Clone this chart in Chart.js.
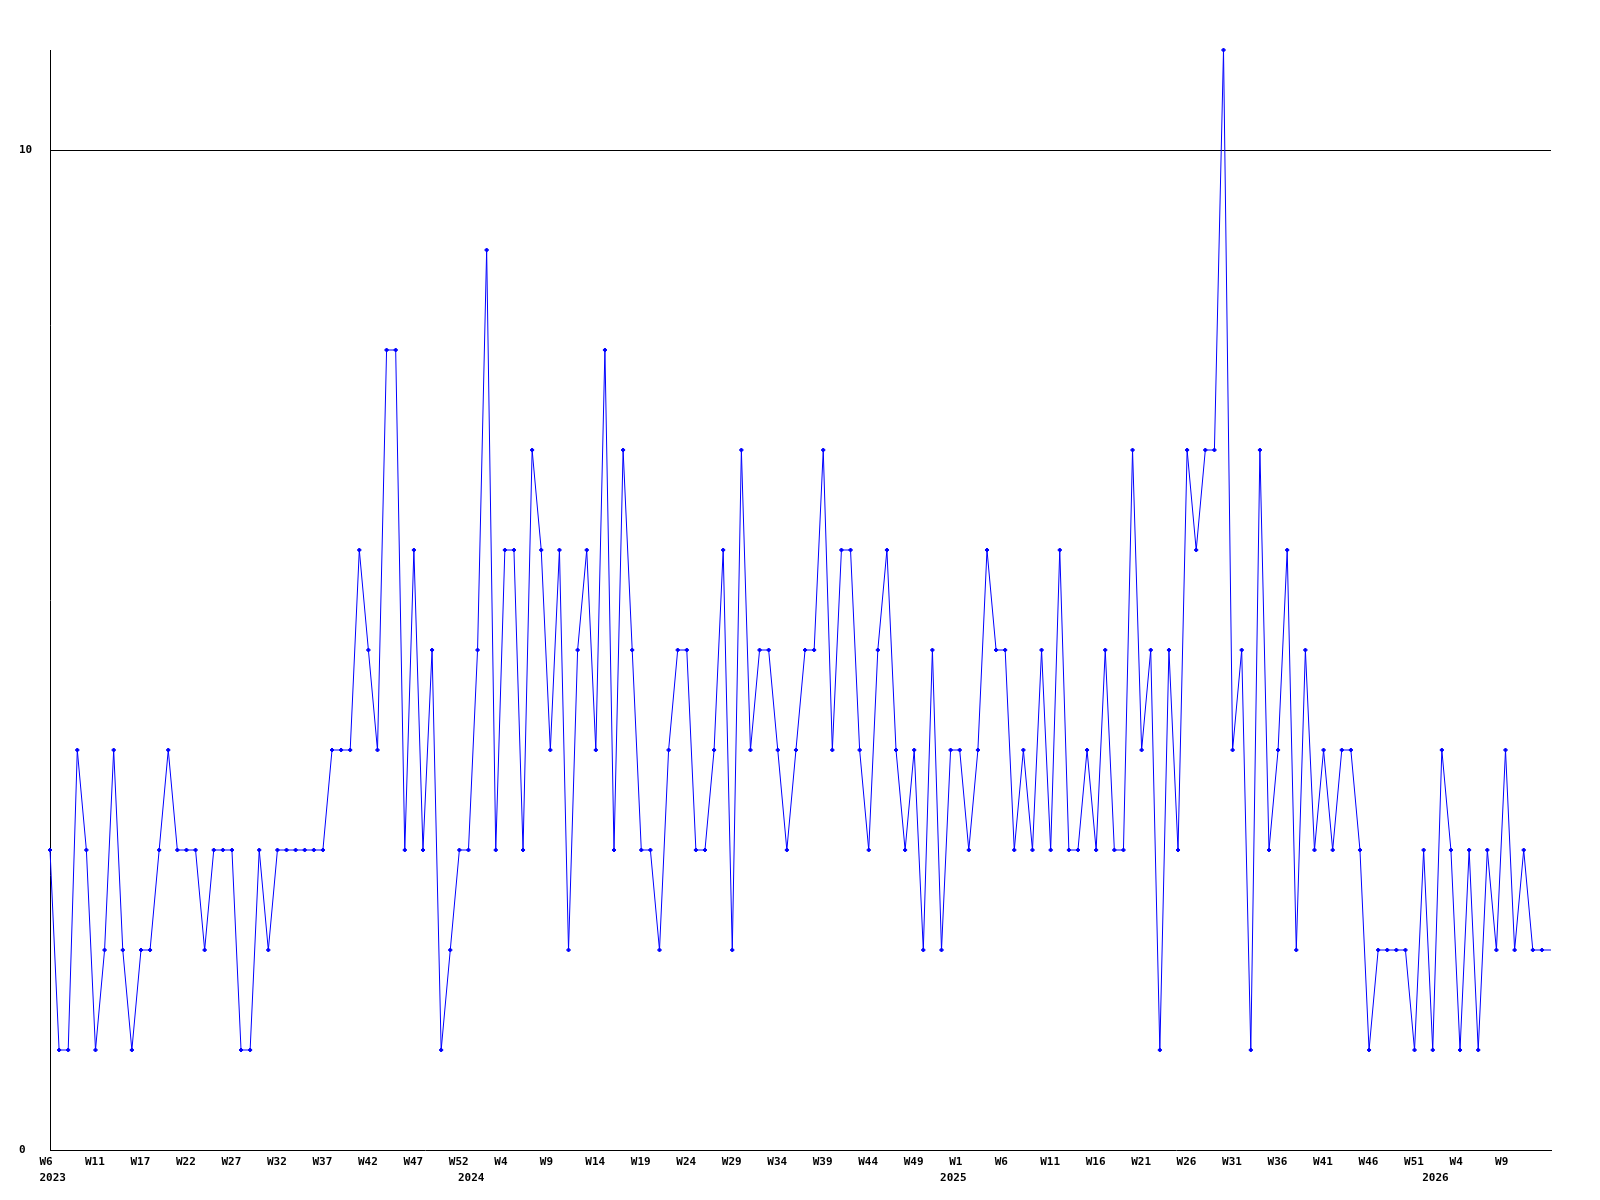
<!DOCTYPE html>
<html>
<head>
<meta charset="utf-8">
<script src="https://cdn.jsdelivr.net/npm/chart.js@4/dist/chart.umd.min.js"></script>
<style>
  html, body { margin: 0; padding: 0; background: #ffffff; }
  #wrap { width: 1600px; height: 1200px; }
</style>
</head>
<body>
<div id="wrap"><canvas id="c" width="1600" height="1200"></canvas></div>
<script>
// Weekly values, one per week starting 2023 W6
const values = [
  3,1,1,4,3,1,2,4,2,1,2,2,3,4,3,3,3,2,3,3,
  3,1,1,3,2,3,3,3,3,3,3,4,4,4,6,5,4,8,8,3,6,
  3,5,1,2,3,3,5,9,3,6,6,3,7,6,4,6,2,5,6,4,8,
  3,7,5,3,3,2,4,5,5,3,3,4,6,2,7,4,5,5,4,3,4,
  5,5,7,4,6,6,4,3,5,6,4,3,4,2,5,2,4,4,3,4,6,
  5,5,3,4,3,5,3,6,3,3,4,3,5,3,3,7,4,5,1,5,3,
  7,6,7,7,11,4,5,1,7,3,4,6,2,5,3,4,3,4,4,3,
  1,2,2,2,2,1,3,1,4,3,1,3,1,3,2,4,2,3,2,2,2
];

// Week tick labels, shown on every 5th week
const weekLabels = ['W6','W11','W17','W22','W27','W32','W37','W42','W47','W52',
  'W4','W9','W14','W19','W24','W29','W34','W39','W44','W49',
  'W1','W6','W11','W16','W21','W26','W31','W36','W41','W46','W51',
  'W4','W9'];
const weekLabelEvery = 5;

// Year labels and the week (point number) where each one begins
const yearLabels = ['2023','2024','2025','2026'];
const yearStartWeek = [0, 46, 99, 152];

// Y axis tick labels
const yTicks = [0, 10];
const yMax = 11;

// Build categories (one per point) from the label arrays
const categories = values.map((v, i) => {
  const wk = (i % weekLabelEvery === 0 && weekLabels[i / weekLabelEvery]) ? weekLabels[i / weekLabelEvery] : '';
  const yi = yearStartWeek.indexOf(i);
  const yr = yi >= 0 ? yearLabels[yi] : '';
  return (wk || yr) ? [wk, yr] : '';
});

// Last point is the current (incomplete) week: no marker
const radii = values.map((v, i) => i === values.length - 1 ? 0 : 2);

const tickFont = { family: '"DejaVu Sans Mono", monospace', size: 11, weight: 'bold', lineHeight: '16px' };

new Chart(document.getElementById('c'), {
  type: 'line',
  data: {
    labels: categories,
    datasets: [{
      data: values,
      borderColor: '#0000ff',
      backgroundColor: '#0000ff',
      borderWidth: 1,
      pointStyle: 'rectRot',
      pointRadius: radii,
      pointHoverRadius: radii,
      pointBorderWidth: 1,
      pointBorderColor: '#0000ff',
      pointBackgroundColor: '#0000ff',
      tension: 0,
      fill: false,
      clip: false
    }]
  },
  options: {
    responsive: false,
    animation: false,
    devicePixelRatio: 1,
    layout: { padding: { left: 19, right: 49, top: 50, bottom: 0 } },
    plugins: { legend: { display: false }, tooltip: { enabled: false }, title: { display: false } },
    scales: {
      x: {
        type: 'category',
        offset: false,
        grid: { display: false, drawTicks: false },
        border: { display: true, color: '#000000', width: 1 },
        ticks: {
          autoSkip: false,
          maxRotation: 0,
          minRotation: 0,
          align: 'start',
          labelOffset: -10.5,
          padding: 4,
          color: '#000000',
          font: tickFont,
          callback: function(value, index) { const c = categories[index]; return c === '' ? null : c; }
        },
        afterFit: function(axis) { axis.height = 50; }
      },
      y: {
        min: 0,
        max: yMax,
        afterBuildTicks: function(axis) { axis.ticks = yTicks.map(v => ({ value: v })); },
        grid: {
          drawTicks: false,
          color: function(ctx) { return (ctx.tick && ctx.tick.value === 10) ? '#000000' : 'rgba(0,0,0,0)'; },
          lineWidth: 1
        },
        border: { display: true, color: '#000000', width: 1 },
        ticks: {
          crossAlign: 'far',
          padding: 0,
          color: '#000000',
          font: tickFont,
          callback: function(v) { return String(v); }
        },
        afterFit: function(axis) { axis.width = 31; }
      }
    }
  }
});
</script>
</body>
</html>
